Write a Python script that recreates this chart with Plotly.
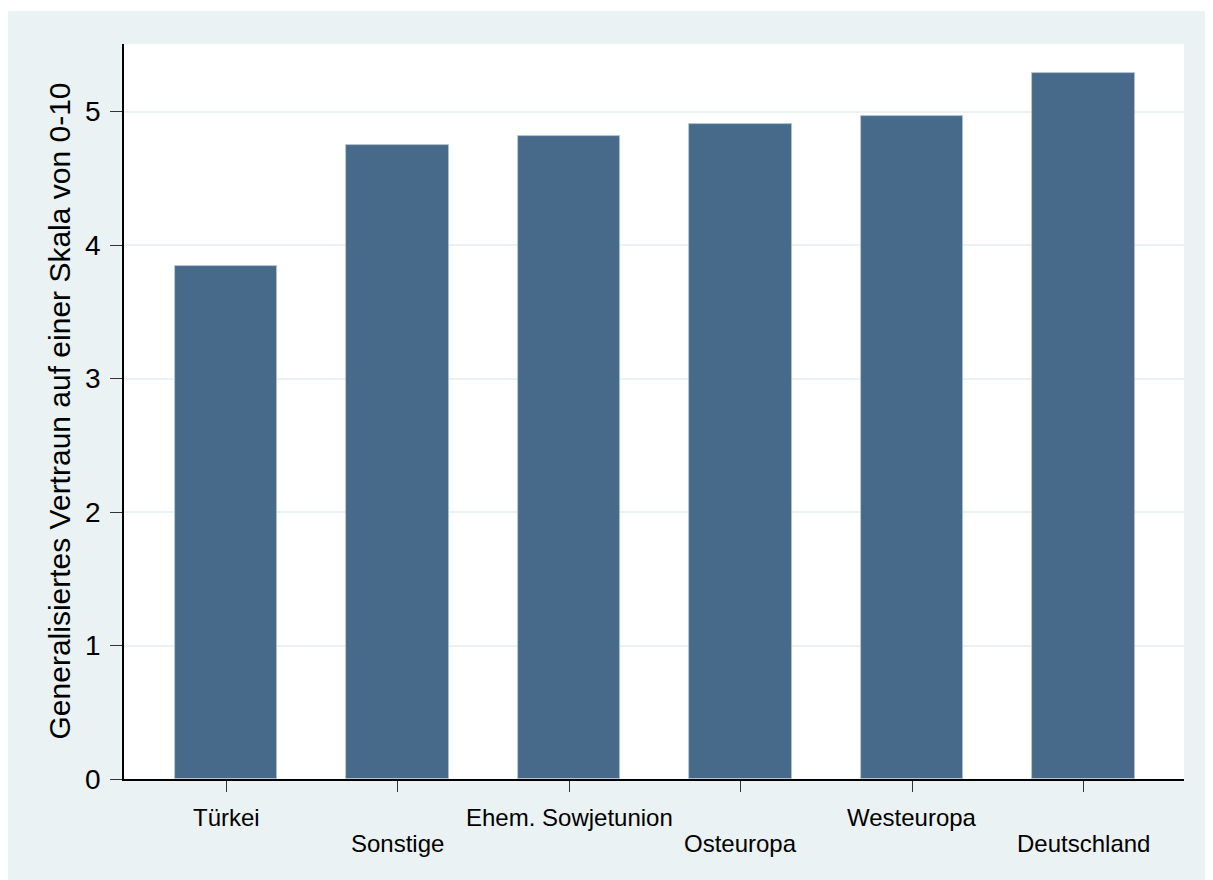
import plotly.graph_objects as go

categories = ["Türkei", "Sonstige", "Ehem. Sowjetunion", "Osteuropa", "Westeuropa", "Deutschland"]
values = [3.84, 4.75, 4.82, 4.91, 4.97, 5.29]
y_ticks = [0, 1, 2, 3, 4, 5]
y_title = "Generalisiertes Vertraun auf einer Skala von 0-10"

BG = "#EAF2F3"
BAR = "#476A8A"
FONT = "Arial, Liberation Sans, sans-serif"

positions = list(range(len(categories)))

fig = go.Figure()
fig.add_trace(go.Bar(
    x=positions, y=values, width=0.6,
    marker=dict(color=BAR, line=dict(color="#B8C8D8", width=0.8)),
    hoverinfo="skip",
))

W, H = 1205, 872
L, R, T, B = 116, 29, 36, 101
pw, ph = W - L - R, H - T - B

fig.update_layout(
    width=W, height=H,
    margin=dict(l=L, r=R, t=T, b=B, pad=0),
    paper_bgcolor=BG, plot_bgcolor="white",
    showlegend=False, bargap=0,
    font=dict(family=FONT, color="black"),
    xaxis=dict(
        range=[-0.595, 5.586], tickvals=positions, showticklabels=False,
        ticks="outside", ticklen=11, tickwidth=1, tickcolor="#333333",
        showline=True, linecolor="black", linewidth=1.5,
        showgrid=False, zeroline=False,
    ),
    yaxis=dict(
        range=[0, 5.507], tickvals=y_ticks, ticktext=[str(v) for v in y_ticks],
        tickfont=dict(size=28, family=FONT, color="black"),
        ticks="outside", ticklen=12, tickwidth=1, tickcolor="#333333",
        ticklabelstandoff=4,
        showline=True, linecolor="black", linewidth=1.5,
        showgrid=True, gridcolor=BG, gridwidth=2, zeroline=False,
    ),
)

# thin white strip at the top of the image
fig.add_shape(type="rect", xref="paper", yref="paper", layer="below",
              x0=-L / pw, x1=(W - L) / pw, y0=(ph + T - 3) / ph, y1=(ph + T) / ph,
              fillcolor="white", line=dict(width=0))

# alternating category labels
for i, c in enumerate(categories):
    fig.add_annotation(x=i, xref="x", y=0, yref="paper", text=c, showarrow=False,
                       xanchor="center", yanchor="middle",
                       yshift=-38 if i % 2 == 0 else -64,
                       font=dict(size=24, family=FONT, color="black"))

fig.add_annotation(x=(51 - L) / pw, xref="paper", y=0.5, yref="paper", text=y_title,
                   showarrow=False, textangle=-90, xanchor="center", yanchor="middle",
                   font=dict(size=30, family=FONT, color="black"))

fig.write_html("out.html")
